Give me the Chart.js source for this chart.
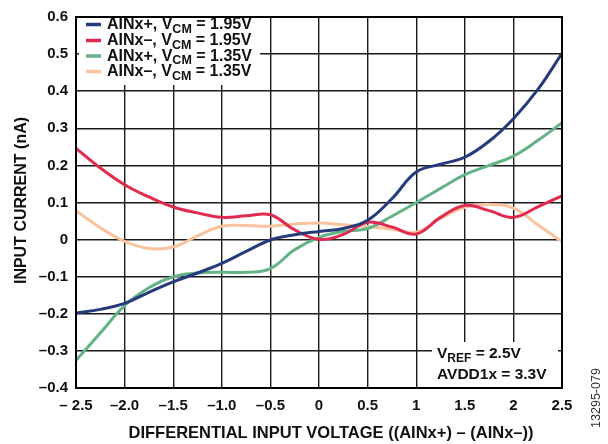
<!DOCTYPE html>
<html>
<head>
<meta charset="utf-8">
<script src="https://cdn.jsdelivr.net/npm/chart.js@4/dist/chart.umd.min.js"></script>
<style>
html,body{margin:0;padding:0;background:#fff;}
#wrap{width:608px;height:444px;}
</style>
</head>
<body>
<div id="wrap"><canvas id="c" width="608" height="444"></canvas></div>
<script>
// ---- data ----
const xValues = [-2.5,-2.25,-2.0,-1.75,-1.5,-1.25,-1.0,-0.75,-0.5,-0.25,0,0.25,0.5,0.75,1.0,1.25,1.5,1.75,2.0,2.25,2.5];
const ainPos195 = [-0.198,-0.188,-0.172,-0.142,-0.114,-0.090,-0.064,-0.032,-0.001,0.013,0.022,0.030,0.052,0.110,0.182,0.203,0.222,0.265,0.326,0.404,0.502];
const ainNeg195 = [0.246,0.193,0.148,0.115,0.088,0.072,0.060,0.064,0.067,0.026,0.001,0.014,0.047,0.034,0.015,0.060,0.092,0.078,0.060,0.088,0.118];
const ainPos135 = [-0.325,-0.252,-0.178,-0.130,-0.100,-0.090,-0.088,-0.088,-0.078,-0.027,0.006,0.022,0.030,0.063,0.100,0.138,0.175,0.200,0.225,0.267,0.315];
const ainNeg135 = [0.078,0.032,-0.005,-0.024,-0.020,0.010,0.036,0.038,0.036,0.042,0.045,0.040,0.035,0.028,0.020,0.057,0.087,0.095,0.085,0.040,-0.006];
const seriesNames = [["AINx+, V","CM"," = 1.95V"],["AINx\u2013, V","CM"," = 1.95V"],["AINx+, V","CM"," = 1.35V"],["AINx\u2013, V","CM"," = 1.35V"]];
const seriesColors = ["#253b7b","#e02a50","#63b387","#fbc39d"];
const xTickLabels = ["\u2013 2.5","\u20132.0","\u20131.5","\u20131.0","\u20130.5","0","0.5","1","1.5","2","2.5"];
const yTickLabels = ["\u20130.4","\u20130.3","\u20130.2","\u20130.1","0","0.1","0.2","0.3","0.4","0.5","0.6"];
const xTitle = "DIFFERENTIAL INPUT VOLTAGE ((AINx+) \u2013 (AINx\u2013))";
const yTitle = "INPUT CURRENT (nA)";
const noteLines = [["V","REF"," = 2.5V"],["AVDD1x = 3.3V","",""]];
const figId = "13295-079";

const FONT = "'Liberation Sans', Arial, sans-serif";
const allSeries = [ainPos195, ainNeg195, ainPos135, ainNeg135];

function drawSubText(ctx, x, y, parts, mainSize, subSize, subDrop){
  ctx.textAlign = 'left';
  ctx.textBaseline = 'alphabetic';
  ctx.font = 'bold ' + mainSize + 'px ' + FONT;
  ctx.fillText(parts[0], x, y);
  x += ctx.measureText(parts[0]).width;
  if (parts[1]) {
    ctx.font = 'bold ' + subSize + 'px ' + FONT;
    ctx.fillText(parts[1], x, y + subDrop);
    x += ctx.measureText(parts[1]).width;
  }
  if (parts[2]) {
    ctx.font = 'bold ' + mainSize + 'px ' + FONT;
    ctx.fillText(parts[2], x, y);
  }
}

const overlay = {
  id: 'overlay',
  beforeDatasetsDraw(chart){
    const ctx = chart.ctx;
    ctx.save();
    ctx.fillStyle = '#ffffff';
    ctx.fillRect(79, 13, 181, 72);
    ctx.fillRect(432, 342, 126, 45);
    // legend
    const baselines = [29, 45, 60.5, 76];
    for (let i = 0; i < 4; i++) {
      ctx.strokeStyle = seriesColors[i];
      ctx.lineWidth = 3.5;
      ctx.beginPath();
      ctx.moveTo(86, baselines[i] - 4.5);
      ctx.lineTo(101, baselines[i] - 4.5);
      ctx.stroke();
      ctx.fillStyle = '#111';
      drawSubText(ctx, 107, baselines[i], seriesNames[i], 16, 12.5, 3.5);
    }
    // note
    ctx.fillStyle = '#111';
    drawSubText(ctx, 437, 358, noteLines[0], 15.5, 12, 3.5);
    drawSubText(ctx, 437, 378.5, noteLines[1], 15.5, 12, 3.5);
    ctx.restore();
  },
  afterDraw(chart){
    const ctx = chart.ctx;
    const a = chart.chartArea;
    ctx.save();
    ctx.strokeStyle = '#000';
    ctx.lineWidth = 2;
    ctx.strokeRect(a.left, a.top, a.right - a.left, a.bottom - a.top);
    ctx.fillStyle = '#111';
    ctx.font = 'bold 16.5px ' + FONT;
    ctx.textAlign = 'center';
    ctx.textBaseline = 'alphabetic';
    ctx.fillText(xTitle, 331, 437.5);
    ctx.save();
    ctx.translate(25.5, 200.5);
    ctx.rotate(-Math.PI/2);
    ctx.font = 'bold 16px ' + FONT;
    ctx.fillText(yTitle, 0, 0);
    ctx.restore();
    ctx.save();
    ctx.translate(600, 398);
    ctx.rotate(-Math.PI/2);
    ctx.font = '12.5px ' + FONT;
    ctx.fillStyle = '#333';
    ctx.fillText(figId, 0, 0);
    ctx.restore();
    ctx.restore();
  }
};

const datasets = allSeries.map((vals, i) => ({
  label: seriesNames[i].join(''),
  data: xValues.map((x, j) => ({x: x, y: vals[j]})),
  borderColor: seriesColors[i],
  backgroundColor: seriesColors[i],
  borderWidth: 3,
  pointRadius: 0,
  tension: 0.4,
  fill: false
}));

new Chart(document.getElementById('c'), {
  type: 'line',
  data: { datasets: datasets },
  plugins: [overlay],
  options: {
    responsive: false,
    animation: false,
    layout: { padding: { left: 0, right: 46, top: 12, bottom: 0 } },
    plugins: { legend: { display: false }, tooltip: { enabled: false } },
    scales: {
      x: {
        type: 'linear',
        min: -2.5, max: 2.5,
        afterFit(s){ s.height = 56; },
        ticks: {
          stepSize: 0.5,
          autoSkip: false,
          maxRotation: 0,
          padding: 9,
          color: '#111',
          font: { family: FONT, size: 15, weight: 'bold' },
          callback: (v, i) => xTickLabels[i]
        },
        grid: { color: '#1a1a1a', lineWidth: 1.4, drawTicks: false },
        border: { display: true, color: '#000', width: 2 }
      },
      y: {
        type: 'linear',
        min: -0.4, max: 0.6,
        afterFit(s){ s.width = 76; },
        ticks: {
          stepSize: 0.1,
          autoSkip: false,
          padding: 8,
          color: '#111',
          font: { family: FONT, size: 15, weight: 'bold' },
          callback: (v, i) => yTickLabels[i]
        },
        grid: { color: '#1a1a1a', lineWidth: 1.4, drawTicks: false },
        border: { display: true, color: '#000', width: 2 }
      }
    }
  }
});
</script>
</body>
</html>
